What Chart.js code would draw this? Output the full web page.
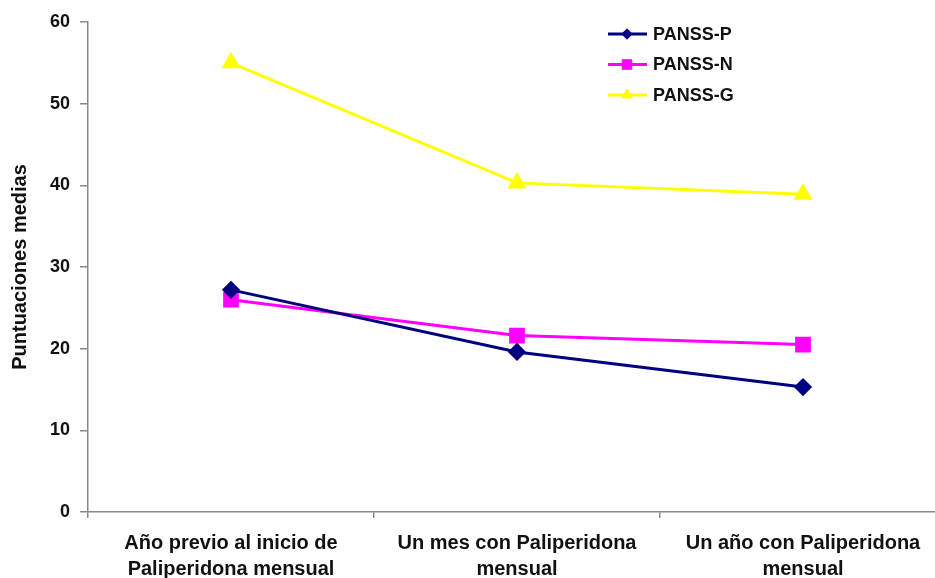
<!DOCTYPE html>
<html lang="es">
<head>
<meta charset="UTF-8">
<title>Puntuaciones PANSS</title>
<style>
  html, body { margin: 0; padding: 0; background: #fff; overflow: hidden; }
  #wrap { width: 960px; height: 578px; }
</style>
</head>
<body>
<div id="wrap"><canvas id="grafico" width="960" height="578"></canvas></div>
<script src="https://cdn.jsdelivr.net/npm/chart.js"></script>
<script>
// datos
const categorias = [
  ["Año previo al inicio de", "Paliperidona mensual"],
  ["Un mes con Paliperidona", "mensual"],
  ["Un año con Paliperidona", "mensual"]
];
const panssP = [27.2, 19.6, 15.3];
const panssN = [26.0, 21.6, 20.5];
const panssG = [55.0, 40.3, 38.9];
const ejeY = { min: 0, max: 60, paso: 10 };

const fuente = "'Liberation Sans', Arial, sans-serif";

// leyenda dibujada a mano arriba a la derecha
const leyenda = {
  id: "leyenda",
  afterDraw(chart) {
    const ctx = chart.ctx;
    ctx.save();
    chart.data.datasets.forEach((ds, i) => {
      const y = 34 + i * 30.5;
      ctx.strokeStyle = ds.borderColor;
      ctx.fillStyle = ds.borderColor;
      ctx.lineWidth = 3;
      ctx.beginPath();
      ctx.moveTo(608, y);
      ctx.lineTo(647, y);
      ctx.stroke();
      ctx.lineWidth = 1;
      Chart.helpers.drawPoint(ctx, {
        pointStyle: ds.pointStyle,
        radius: ds.pointRadius * 0.75,
        borderWidth: 1
      }, 627, y);
      ctx.fillStyle = "#111";
      ctx.font = "bold 18px " + fuente;
      ctx.textBaseline = "middle";
      ctx.fillText(ds.label, 653, y + 1);
    });
    ctx.restore();
  }
};

const serie = (label, datos, color, estilo, radio) => ({
  label: label,
  data: datos,
  borderColor: color,
  backgroundColor: color,
  pointBackgroundColor: color,
  pointBorderColor: color,
  borderWidth: 3,
  pointStyle: estilo,
  pointRadius: radio,
  pointHoverRadius: radio,
  tension: 0
});

new Chart(document.getElementById("grafico"), {
  type: "line",
  data: {
    labels: categorias,
    datasets: [
      serie("PANSS-P", panssP, "#000080", "rectRot", 7),
      serie("PANSS-N", panssN, "#ff00ff", "rect", 9),
      serie("PANSS-G", panssG, "#ffff00", "triangle", 8)
    ]
  },
  options: {
    responsive: false,
    animation: false,
    layout: { padding: { top: 22, right: 14, left: 0, bottom: 0 } },
    plugins: {
      legend: { display: false },
      tooltip: { enabled: false }
    },
    scales: {
      x: {
        offset: true,
        grid: { drawOnChartArea: false, offset: true, tickLength: 6, color: "#888", lineWidth: 1.5 },
        border: { color: "#888", width: 1.5 },
        ticks: {
          color: "#111",
          padding: 12,
          maxRotation: 0,
          autoSkip: false,
          font: { family: fuente, size: 20, weight: "bold", lineHeight: 1.3 }
        },
        afterFit(scale) { scale.height = 66; }
      },
      y: {
        min: ejeY.min,
        max: ejeY.max,
        ticks: {
          stepSize: ejeY.paso,
          color: "#111",
          padding: 10,
          font: { family: fuente, size: 18, weight: "bold" }
        },
        grid: { drawOnChartArea: false, tickLength: 8, color: "#888", lineWidth: 1.5 },
        border: { color: "#888", width: 1.5 },
        title: {
          display: true,
          text: "Puntuaciones medias",
          color: "#111",
          padding: { top: 8, bottom: 0 },
          font: { family: fuente, size: 20, weight: "bold" }
        },
        afterFit(scale) { scale.width = 88; }
      }
    }
  },
  plugins: [leyenda]
});
</script>
</body>
</html>
